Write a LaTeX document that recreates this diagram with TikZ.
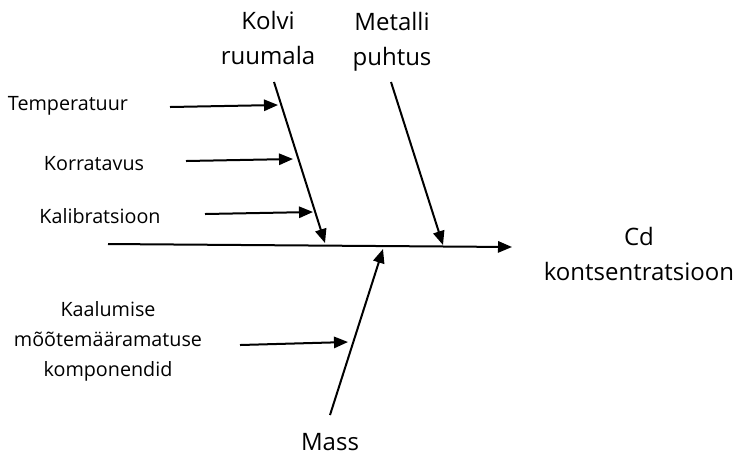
\documentclass[tikz,border=0pt]{standalone}
\usepackage{fontspec}
\setmainfont{Open Sans}
\usetikzlibrary{arrows.meta}
\begin{document}
\begin{tikzpicture}[x=0.75pt,y=-0.75pt,
  arr/.style={line width=1.5pt,-{Triangle[length=10.5pt,width=8.5pt]}},
  small/.style={font=\fontsize{14.8}{23}\selectfont,align=center,inner sep=0pt},
  big/.style={font=\fontsize{18}{26.5}\selectfont,align=center,inner sep=0pt}]
\useasboundingbox (0,0) rectangle (737,455);
% spine
\coordinate (s0) at (108,244);
\coordinate (s1) at (512,247);
\draw[arr] (s0) -- (s1);
% main bones
\coordinate (k0) at (274,82);  \coordinate (k1) at (325,243);
\coordinate (m0) at (391,82);  \coordinate (m1) at (443,245);
\coordinate (a0) at (330,415); \coordinate (a1) at (383,249);
\draw[arr] (k0) -- (k1);
\draw[arr] (m0) -- (m1);
\draw[arr] (a0) -- (a1);
% minor bones
\coordinate (t0) at (170,107); \coordinate (t1) at (278,105);
\coordinate (r0) at (186,161); \coordinate (r1) at (293,159);
\coordinate (c0) at (205,214); \coordinate (c1) at (313,212);
\coordinate (w0) at (240,345); \coordinate (w1) at (348,342);
\draw[arr] (t0) -- (t1);
\draw[arr] (r0) -- (r1);
\draw[arr] (c0) -- (c1);
\draw[arr] (w0) -- (w1);
% labels
\node[big] (kolvi) at (268,38) {Kolvi\\ruumala};
\node[big] (metalli) at (392,42) {Metalli\\puhtus};
\node[big] (cd) at (639,254) {Cd\\kontsentratsioon};
\node[big] (mass) at (330,442) {Mass};
\node[small] (temp) at (68,106) {Temperatuur};
\node[small] (korr) at (94,164) {Korratavus};
\node[small] (kal) at (100,216) {Kalibratsioon};
\node[small,font=\fontsize{14.8}{22.5}\selectfont] (kaal) at (108,341) {Kaalumise\\mõõtemääramatuse\\komponendid};
\end{tikzpicture}
\end{document}
